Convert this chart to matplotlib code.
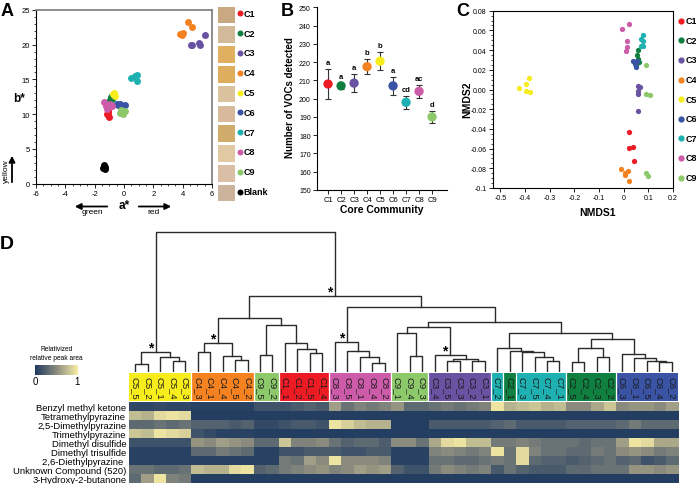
import numpy as np
import matplotlib.pyplot as plt
from matplotlib.colors import LinearSegmentedColormap
from matplotlib.ticker import MultipleLocator
from matplotlib.patches import FancyArrowPatch

plt.rcParams['font.family'] = ['Liberation Sans', 'DejaVu Sans']
plt.rcParams['axes.unicode_minus'] = False

W, H = 696, 485

groups = ["C1", "C2", "C3", "C4", "C5", "C6", "C7", "C8", "C9"]
group_colors = ["#ed1c24", "#0f8040", "#6a52a3", "#f58220", "#f7ec1c",
                "#3a53a4", "#1fb1b2", "#cc5ca9", "#8dc96b"]
color_of = dict(zip(groups, group_colors))

# panel A: colour of each replicate (CIELAB a*, b*)
a_star = {
    "C1": [-1.10, -1.10, -1.05, -1.15, -1.08],
    "C2": [-0.90, -0.95, -0.85, -0.80, -1.00],
    "C3": [4.66, 5.14, 5.18, 5.52, 4.60],
    "C4": [4.34, 4.66, 3.82, 4.00, 3.93],
    "C5": [-0.68, -0.61, -0.73, -0.66],
    "C6": [-0.39, -0.16, 0.07, -0.27, -0.50],
    "C7": [0.45, 0.86, 0.91, 0.75],
    "C8": [-1.36, -0.95, -1.14, -1.23, -0.84],
    "C9": [-0.16, -0.09, -0.27, 0.07, -0.20],
    "Blank": [-1.36, -1.32, -1.41, -1.30],
}
b_star = {
    "C1": [10.3, 9.8, 9.6, 10.0, 10.5],
    "C2": [12.4, 12.0, 12.6, 12.2, 11.8],
    "C3": [19.9, 20.3, 19.9, 21.45, 20.0],
    "C4": [23.3, 22.55, 21.5, 21.7, 21.35],
    "C5": [13.1, 12.6, 12.9, 12.8],
    "C6": [11.3, 11.2, 11.3, 11.4, 11.4],
    "C7": [15.2, 15.7, 14.8, 15.5],
    "C8": [11.8, 11.4, 10.8, 11.2, 11.2],
    "C9": [10.3, 10.0, 10.2, 10.5, 10.6],
    "Blank": [2.6, 2.1, 2.3, 2.4],
}
swatch_labels = groups + ["Blank"]
swatch_colors = ["#c8a982", "#d2b99a", "#e0b060", "#deae5e", "#dbc29e",
                 "#d9b99b", "#cfab6c", "#e0c9a3", "#dbbea6", "#ccb49c"]

# panel B: number of VOCs detected
voc_mean = [208, 207, 208.5, 217.5, 220.5, 207, 198, 204, 190]
voc_err = [8.3, 1.5, 5, 4, 5, 5, 3.5, 3.5, 3.5]
voc_letters = ["a", "a", "a", "b", "b", "a", "cd", "ac", "d"]

# panel C: NMDS ordination
nmds1 = {
    "C1": [0.020, 0.023, 0.038, 0.042],
    "C2": [0.059, 0.056, 0.059, 0.055, 0.062],
    "C3": [0.059, 0.066, 0.059, 0.059, 0.059],
    "C4": [-0.011, 0.007, 0.018, 0.004, 0.023],
    "C5": [-0.423, -0.397, -0.384, -0.396, -0.381],
    "C6": [0.037, 0.051, 0.048, 0.044, 0.055],
    "C7": [0.078, 0.070, 0.078, 0.070, 0.079],
    "C8": [-0.007, 0.023, 0.015, 0.012, 0.010],
    "C9": [0.089, 0.092, 0.105, 0.092, 0.100],
}
nmds2 = {
    "C1": [-0.0433, -0.0592, -0.0579, -0.0724],
    "C2": [0.0403, 0.0352, 0.0308, 0.0267, 0.0284],
    "C3": [0.0034, 0.0027, -0.0020, -0.0047, -0.0217],
    "C4": [-0.0812, -0.0846, -0.0829, -0.0873, -0.0924],
    "C5": [0.0017, 0.0054, 0.0118, -0.0014, -0.0027],
    "C6": [0.0288, 0.0277, 0.0227, 0.0260, 0.0288],
    "C7": [0.0555, 0.0514, 0.0497, 0.0437, 0.0443],
    "C8": [0.0616, 0.0663, 0.0491, 0.0433, 0.0393],
    "C9": [0.0244, -0.0044, -0.0054, -0.0849, -0.0880],
}

# panel D: clustering + heatmap
leaf_labels = ["C5_5", "C5_2", "C5_1", "C5_4", "C5_3",
               "C4_3", "C4_1", "C4_4", "C4_5", "C4_2",
               "C9_5", "C9_2", "C1_1", "C1_2", "C1_5", "C1_4",
               "C8_3", "C8_5", "C8_1", "C8_4", "C8_2",
               "C9_1", "C9_4", "C9_3",
               "C3_4", "C3_5", "C3_3", "C3_2", "C3_1",
               "C7_2", "C2_1", "C7_3", "C7_5", "C7_4", "C7_1",
               "C2_5", "C2_4", "C2_3", "C2_2",
               "C6_3", "C6_1", "C6_5", "C6_4", "C6_2"]
compounds = ["Benzyl methyl ketone", "Tetramethylpyrazine", "2,5-Dimethylpyrazine",
             "Trimethylpyrazine", "Dimethyl disulfide", "Dimethyl trisulfide",
             "2,6-Diethylpyrazine ", "Unknown Compound (520)", "3-Hydroxy-2-butanone"]
heat_values = [
    [0.08, 0.08, 0.10, 0.08, 0.08, 0.05, 0.05, 0.05, 0.05, 0.05, 0.15, 0.15,
     0.15, 0.20, 0.25, 0.20, 0.60, 0.35, 0.45, 0.40, 0.45, 0.55, 0.30, 0.30,
     0.35, 0.40, 0.35, 0.40, 0.45, 0.95, 0.70, 0.75, 0.80, 0.70, 0.75,
     0.50, 0.50, 0.65, 0.80, 0.50, 0.55, 0.55, 0.50, 0.60],
    [0.75, 0.70, 0.90, 0.95, 0.90] + [0.03] * 39,
    [0.30, 0.30, 0.35, 0.30, 0.35, 0.25, 0.25, 0.25, 0.20, 0.25, 0.10, 0.10,
     0.15, 0.20, 0.20, 0.15, 0.95, 0.85, 0.75, 0.70, 0.70, 0.03, 0.03, 0.03,
     0.20, 0.20, 0.20, 0.20, 0.20, 0.25, 0.30, 0.20, 0.20, 0.20, 0.20,
     0.25, 0.25, 0.25, 0.25, 0.30, 0.40, 0.30, 0.30, 0.30],
    [0.80, 0.75, 0.95, 0.90, 0.85, 0.15, 0.10, 0.05, 0.05, 0.05] + [0.03] * 34,
    [0.15, 0.15, 0.15, 0.15, 0.15, 0.55, 0.50, 0.60, 0.55, 0.50, 0.30, 0.30,
     0.80, 0.45, 0.45, 0.50, 0.35, 0.25, 0.30, 0.30, 0.22, 0.50, 0.50, 0.35,
     0.65, 0.90, 0.95, 0.75, 0.75, 0.40, 0.40, 0.45, 0.40, 0.35, 0.35,
     0.35, 0.30, 0.35, 0.35, 0.60, 0.95, 0.90, 0.65, 0.65],
    [0.05, 0.05, 0.05, 0.05, 0.05, 0.30, 0.30, 0.40, 0.35, 0.30, 0.05, 0.05,
     0.15, 0.15, 0.20, 0.20, 0.20, 0.15, 0.15, 0.20, 0.20, 0.05, 0.05, 0.05,
     0.45, 0.50, 0.45, 0.40, 0.45, 0.95, 0.35, 0.90, 0.45, 0.35, 0.35,
     0.30, 0.30, 0.40, 0.35, 0.50, 0.55, 0.50, 0.40, 0.45],
    [0.05, 0.05, 0.05, 0.05, 0.05, 0.05, 0.05, 0.05, 0.05, 0.05, 0.05, 0.05,
     0.40, 0.35, 0.60, 0.50, 0.95, 0.50, 0.50, 0.50, 0.45, 0.05, 0.05, 0.05,
     0.35, 0.35, 0.30, 0.30, 0.35, 0.40, 0.35, 0.90, 0.30, 0.25, 0.25,
     0.20, 0.25, 0.30, 0.35, 0.25, 0.30, 0.15, 0.20, 0.30],
    [0.35, 0.35, 0.30, 0.30, 0.35, 0.75, 0.70, 0.70, 0.90, 0.95, 0.25, 0.30,
     0.40, 0.45, 0.50, 0.55, 0.45, 0.50, 0.60, 0.55, 0.60, 0.25, 0.15, 0.15,
     0.40, 0.50, 0.45, 0.40, 0.45, 0.20, 0.35, 0.25, 0.20, 0.20, 0.20,
     0.30, 0.30, 0.35, 0.35, 0.35, 0.55, 0.55, 0.50, 0.55],
    [0.30, 0.60, 0.95, 0.45, 0.40] + [0.03] * 39,
]
# merge heights: (height, left, right[, significant])
c5 = (20, (7.7, "C5_5", "C5_2"), (14.4, "C5_1", (11, "C5_4", "C5_3")), True)
c4 = (28.7, (19.4, "C4_3", "C4_1"), (15.4, "C4_4", (12, "C4_5", "C4_2")), True)
c9a = (16.7, "C9_5", "C9_2")
c1 = (28.7, "C1_1", (22.7, "C1_2", (18.7, "C1_5", "C1_4")))
c8 = (29.4, "C8_3", (21, "C8_5", (15, "C8_1", (8.4, "C8_4", "C8_2"))), True)
c9b = (38.4, "C9_1", (15.4, "C9_4", "C9_3"))
c3 = (17, "C3_4", (12.7, (11, "C3_5", "C3_3"), (10.4, "C3_2", "C3_1")), True)
c7 = (23.7, "C7_2", (20.4, "C2_1", (19.4, "C7_3", (14.4, "C7_5", (10.4, "C7_4", "C7_1")))))
c2 = (23.4, (9.4, "C2_5", "C2_4"), (14.4, "C2_3", "C2_2"))
c6 = (17.7, "C6_3", (13.4, "C6_1", (10.4, "C6_5", (9.4, "C6_4", "C6_2"))))
right_side = (64.4, c8, (49.4, (45, c9b, c3), (38.4, c7, (32.7, c2, c6))))
left_side = (53.4, c4, (46.7, c9a, c1))
tree = (139.4, c5, (76, left_side, right_side, True))

fig = plt.figure(figsize=(6.96, 4.85), dpi=100)


def px_axes(left, top, right, bottom):
    return fig.add_axes([left / W, 1 - bottom / H, (right - left) / W, (bottom - top) / H])


def px_text(x, y, s, **kw):
    fig.text(x / W, 1 - y / H, s, **kw)


def px_arrow(x1, y1, x2, y2):
    fig.add_artist(FancyArrowPatch((x1 / W, 1 - y1 / H), (x2 / W, 1 - y2 / H),
                                   transform=fig.transFigure, arrowstyle="-|>",
                                   mutation_scale=9, lw=1.3, color="black"))


def style_ticks(ax):
    ax.tick_params(which="major", length=3, width=0.6, labelsize=5, pad=1.5)
    ax.tick_params(which="minor", length=1.5, width=0.5)


# ---------------- panel A ----------------
ax_a = px_axes(36, 11, 212, 184.5)
for g in swatch_labels:
    c = color_of.get(g, "black")
    ax_a.plot(a_star[g], b_star[g], "o", color=c, ms=5, mec="none")
ax_a.set_xlim(-6, 6)
ax_a.set_ylim(0, 25)
ax_a.xaxis.set_major_locator(MultipleLocator(2))
ax_a.xaxis.set_minor_locator(MultipleLocator(0.5))
ax_a.yaxis.set_major_locator(MultipleLocator(5))
ax_a.yaxis.set_minor_locator(MultipleLocator(1))
style_ticks(ax_a)
ax_a.tick_params(labelsize=5.5)
for s in ["top", "right"]:
    ax_a.spines[s].set_color("#7a7a7a")
    ax_a.spines[s].set_linewidth(1.2)
for s in ["left", "bottom"]:
    ax_a.spines[s].set_linewidth(0.8)

ax_sw = px_axes(218, 6, 235, 204)
ax_sw.barh(np.arange(len(swatch_labels)) + 0.5, 1, height=0.84, color=swatch_colors)
ax_sw.set_xlim(0, 1)
ax_sw.set_ylim(len(swatch_labels), 0)
ax_sw.axis("off")
for i, g in enumerate(swatch_labels):
    ax_sw.plot(1.3, i + 0.42, "o", color=color_of.get(g, "black"), ms=4.3,
               mec="none", clip_on=False)
    ax_sw.text(1.5, i + 0.42, g, fontsize=6.5, fontweight="bold", va="center",
               ha="left", clip_on=False)

px_text(1, 16, "A", fontsize=13, fontweight="bold")
px_text(19, 99, "b*", fontsize=8.5, fontweight="bold", ha="center", va="center")
px_arrow(12, 186, 12, 154)
px_text(6.5, 171, "yellow", fontsize=6, rotation=90, ha="center", va="center")
px_arrow(110, 207.5, 72, 207.5)
px_arrow(136, 207.5, 174, 207.5)
px_text(92, 212.5, "green", fontsize=6, ha="center", va="center")
px_text(154, 212.5, "red", fontsize=6, ha="center", va="center")
px_text(124, 206, "a*", fontsize=8.5, fontweight="bold", ha="center", va="center")

# ---------------- panel B ----------------
ax_b = px_axes(317, 8.3, 447, 191)
xb = np.arange(1, len(groups) + 1)
ax_b.errorbar(xb, voc_mean, yerr=voc_err, fmt="none", ecolor="#333333",
              elinewidth=0.8, capsize=2.2, capthick=0.8, zorder=2)
ax_b.scatter(xb, voc_mean, s=45, c=group_colors, edgecolors="none", zorder=3)
for x, m, e, lab in zip(xb, voc_mean, voc_err, voc_letters):
    ax_b.text(x, m + e + 1.6, lab, fontsize=5.5, fontweight="bold",
              ha="center", va="bottom")
ax_b.set_xlim(0.15, 10.15)
ax_b.set_ylim(150, 250)
ax_b.set_xticks(xb)
ax_b.set_xticklabels(groups)
ax_b.yaxis.set_major_locator(MultipleLocator(10))
style_ticks(ax_b)
ax_b.tick_params(axis="x", labelsize=5.5)
ax_b.spines["top"].set_visible(False)
ax_b.spines["right"].set_visible(False)
for s in ["left", "bottom"]:
    ax_b.spines[s].set_linewidth(0.8)
px_text(281, 16, "B", fontsize=13, fontweight="bold")
px_text(290, 98, "Number of VOCs detected", fontsize=7, fontweight="bold",
        rotation=90, ha="center", va="center")
px_text(382, 210, "Core Community", fontsize=7.5, fontweight="bold",
        ha="center", va="center")

# ---------------- panel C ----------------
ax_c = px_axes(493, 11.7, 673, 189)
for g in groups:
    ax_c.plot(nmds1[g], nmds2[g], "o", color=color_of[g], ms=3.8, mec="none")
ax_c.set_xlim(-0.53, 0.2)
ax_c.set_ylim(-0.1, 0.08)
cx_ticks = [-0.5, -0.4, -0.3, -0.2, -0.1, 0.0, 0.1, 0.2]
ax_c.set_xticks(cx_ticks)
ax_c.set_xticklabels(["-0.5", "-0.4", "-0.3", "-0.2", "-0.1", "0", "0.1", "0.2"])
cy_ticks = [-0.1, -0.08, -0.06, -0.04, -0.02, 0.0, 0.02, 0.04, 0.06, 0.08]
ax_c.set_yticks(cy_ticks)
ax_c.set_yticklabels(["-0.1", "-0.08", "-0.06", "-0.04", "-0.02", "0.00",
                      "0.02", "0.04", "0.06", "0.08"])
ax_c.yaxis.set_minor_locator(MultipleLocator(0.005))
style_ticks(ax_c)
for s in ax_c.spines.values():
    s.set_linewidth(0.8)
for i, g in enumerate(groups):
    fig.add_artist(plt.Line2D([681 / W], [1 - (21.7 + 19.6 * i) / H], marker="o",
                              color=color_of[g], ms=4.5, mec="none",
                              transform=fig.transFigure))
    px_text(685.5, 21.7 + 19.6 * i, g, fontsize=6.5, fontweight="bold",
            ha="left", va="center")
px_text(456, 16, "C", fontsize=13, fontweight="bold")
px_text(467, 100, "NMDS2", fontsize=7.5, fontweight="bold", rotation=90,
        ha="center", va="center")
px_text(598, 213, "NMDS1", fontsize=7.5, fontweight="bold", ha="center", va="center")

# ---------------- panel D ----------------
n_leaf = len(leaf_labels)
leaf_pos = {lab: i for i, lab in enumerate(leaf_labels)}

ax_tree = px_axes(129, 229, 678, 372.7)
ax_tree.set_xlim(0, n_leaf)
ax_tree.set_ylim(0, 143.7)
ax_tree.axis("off")


def draw_node(node):
    if isinstance(node, str):
        return leaf_pos[node] + 0.5, 0.0
    h, left, right = node[:3]
    xl, hl = draw_node(left)
    xr, hr = draw_node(right)
    ax_tree.plot([xl, xl, xr, xr], [hl, h, h, hr], color="#2b2b2b", lw=1.0)
    x = (xl + xr) / 2
    if len(node) > 3 and node[3]:
        ax_tree.text(x - 0.42, h + 4.5, "*", fontsize=10, fontweight="bold",
                     ha="center", va="center")
    return x, h


draw_node(tree)

ax_band = px_axes(129, 373.7, 678, 402.3)
band_colors = [color_of[lab.split("_")[0]] for lab in leaf_labels]
ax_band.bar(np.arange(n_leaf) + 0.5, 1, width=1, color=band_colors, edgecolor="none")
for i, lab in enumerate(leaf_labels):
    ax_band.text(i + 0.5, 0.5, lab, rotation=270, ha="center", va="center",
                 fontsize=6.8, color="#1a1a1a")
    if i > 0 and lab.split("_")[0] != leaf_labels[i - 1].split("_")[0]:
        ax_band.axvline(i, color="white", lw=0.9)
ax_band.set_xlim(0, n_leaf)
ax_band.set_ylim(0, 1)
ax_band.axis("off")

heat_cmap = LinearSegmentedColormap.from_list(
    "navy_cream", ["#1f3a61", "#8a8b7e", "#f8eea6"])
ax_heat = px_axes(129, 403.3, 678, 484)
ax_heat.imshow(np.array(heat_values), cmap=heat_cmap, vmin=0, vmax=1,
               aspect="auto", interpolation="nearest",
               extent=(0, n_leaf, len(compounds), 0))
ax_heat.set_xticks([])
ax_heat.set_yticks(np.arange(len(compounds)) + 0.5)
ax_heat.set_yticklabels(compounds, fontsize=6.8)
ax_heat.tick_params(axis="y", length=0, pad=2)
for s in ax_heat.spines.values():
    s.set_visible(False)

ax_cb = px_axes(35, 366, 78, 376)
ax_cb.imshow(np.linspace(0, 1, 256)[None, :], cmap=heat_cmap, aspect="auto")
ax_cb.axis("off")
px_text(56.5, 354.5, "Relativized\nrelative peak area", fontsize=4.8,
        ha="center", va="center", linespacing=1.4)
px_text(35, 382.5, "0", fontsize=7, ha="center", va="center")
px_text(77, 382.5, "1", fontsize=7, ha="center", va="center")
px_text(0, 249, "D", fontsize=14, fontweight="bold")

fig.savefig("out.png", dpi=100)
